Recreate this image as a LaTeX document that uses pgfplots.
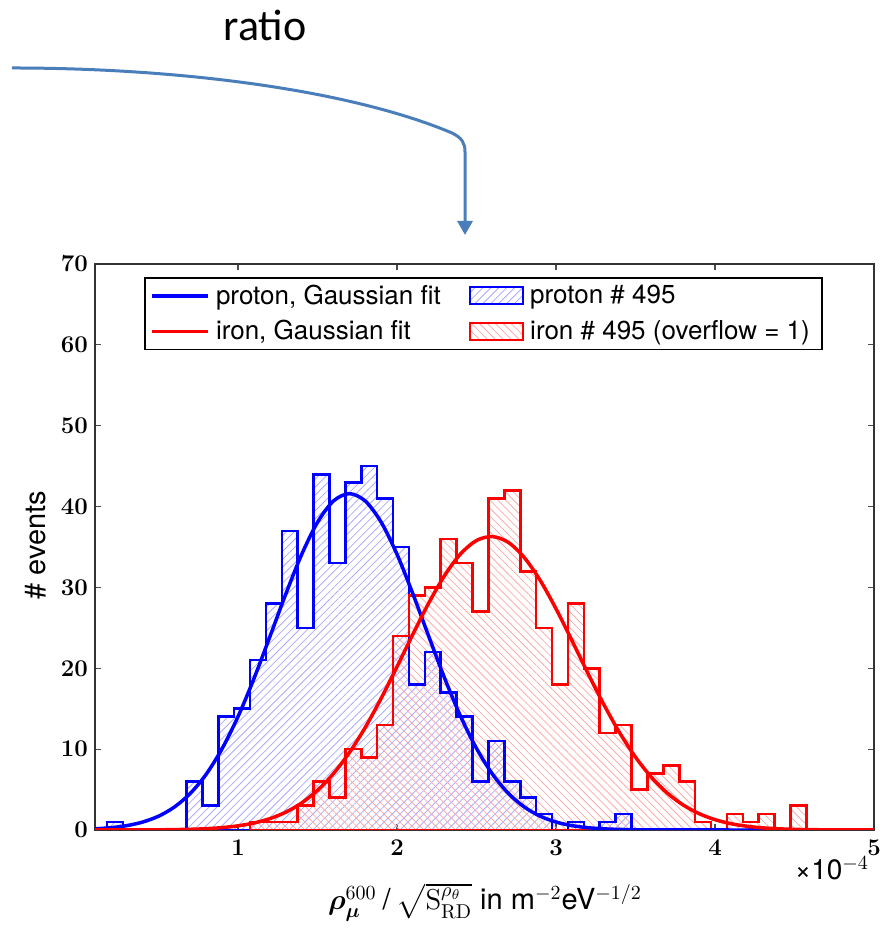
\documentclass[border=0pt]{standalone}
\usepackage[no-math]{fontspec}
\setmainfont{TeX Gyre Heros}
\newfontfamily\calibri{Carlito}
\usepackage{amsmath}
\usepackage{pgfplots}
\pgfplotsset{compat=1.18}
\usetikzlibrary{patterns.meta,arrows.meta}
\definecolor{arrowblue}{RGB}{74,126,187}
\definecolor{hatchblue}{RGB}{170,170,255}
\definecolor{hatchred}{RGB}{255,170,170}
\pgfplotsset{
  mylinelegend/.style={legend image code/.code={\draw[##1] (0pt,0pt) -- (28pt,0pt);}},
  mypatchlegend/.style={legend image code/.code={\draw[##1] (0pt,-4.25pt) rectangle (26.7pt,4.25pt);}},
}
\pgfplotstableread{
x c
0.175 1
0.275 0
0.375 0
0.475 0
0.575 0
0.675 6
0.775 3
0.875 14
0.975 15
1.075 21
1.175 28
1.275 37
1.375 25
1.475 44
1.575 33
1.675 43
1.775 45
1.875 41
1.975 35
2.075 18
2.175 22
2.275 17
2.375 14
2.475 6
2.575 11
2.675 6
2.775 4
2.875 2
2.975 0
3.075 1
3.175 0
3.275 1
3.375 2
3.475 2
}\protonhist
\pgfplotstableread{
x c
1.075 1
1.175 1
1.275 1
1.375 3
1.475 6
1.575 4
1.675 10
1.775 9
1.875 13
1.975 24
2.075 29
2.175 30
2.275 36
2.375 33
2.475 27
2.575 41
2.675 42
2.775 32
2.875 25
2.975 18
3.075 28
3.175 20
3.275 12
3.375 13
3.475 5
3.575 7
3.675 8
3.775 6
3.875 1
3.975 0
4.075 2
4.175 1
4.275 2
4.375 0
4.475 3
4.575 3
}\ironhist
\begin{document}
\begin{tikzpicture}[x=0.5pt,y=0.5pt]
\useasboundingbox (0,0) rectangle (888,929);
\node[font=\calibri\fontsize{22}{26}\selectfont] at (265,904) {ratio};
\draw[arrowblue, line width=1.5pt, -{Triangle[width=7.5pt,length=7pt]}]
  (12,861) .. controls (180,861) and (350,839) .. (452,796)
  .. controls (462,791) and (465,786) .. (465,777) -- (465,694);
\begin{axis}[
  at={(47.5pt,49.5pt)}, anchor=south west, scale only axis,
  width=389.5pt, height=283pt,
  xmin=0.1, xmax=5, ymin=0, ymax=70,
  xtick={1,2,3,4,5}, ytick={0,10,...,70},
  tick align=inside, major tick length=3pt,
  axis line style={line width=1pt, black!80},
  tick style={black!70, line width=0.6pt},
  ticklabel style={font=\fontsize{13}{15}\selectfont\boldmath},
  xticklabel style={yshift=-1.5pt},
  legend columns=2,
  legend style={at={(0.063,0.977)}, anchor=north west, draw=black, line width=0.75pt,
    font=\fontsize{13}{15}\selectfont, row sep=3.5pt,
    nodes={inner ysep=1.5pt, inner xsep=3pt},
    /tikz/every even column/.append style={column sep=11pt}},
  legend cell align=left,
]
\addlegendimage{mylinelegend, blue, line width=1.6pt}
\addlegendentry{proton, Gaussian fit}
\addlegendimage{mypatchlegend, draw=blue, line width=1pt, pattern={Lines[angle=45,distance=2.8pt,line width=0.4pt]}, pattern color=hatchblue}
\addlegendentry{proton \# 495}
\addlegendimage{mylinelegend, red, line width=1.6pt}
\addlegendentry{iron, Gaussian fit}
\addlegendimage{mypatchlegend, draw=red, line width=1pt, pattern={Lines[angle=-45,distance=2.8pt,line width=0.4pt]}, pattern color=hatchred}
\addlegendentry{iron \# 495 (overflow = 1)}

% hatched fills
\addplot[forget plot, const plot, draw=none,
  pattern={Lines[angle=45,distance=2.8pt,line width=0.4pt]}, pattern color=hatchblue]
  table[x=x,y=c] {\protonhist} \closedcycle;
\addplot[forget plot, const plot, draw=none,
  pattern={Lines[angle=-45,distance=2.8pt,line width=0.4pt]}, pattern color=hatchred]
  table[x=x,y=c] {\ironhist} \closedcycle;
% outlines
\addplot[forget plot, const plot, draw=blue, line width=1.3pt] table[x=x,y=c] {\protonhist} \closedcycle;
\addplot[forget plot, const plot, draw=red, line width=1.3pt] table[x=x,y=c] {\ironhist} \closedcycle;

% proton Gaussian fit
\addplot[forget plot, blue, line width=1.75pt, smooth] coordinates {
(0.1,0.143) (0.2,0.284) (0.3,0.540) (0.4,0.983) (0.5,1.710) (0.6,2.849) (0.7,4.536) (0.8,6.910)
(0.9,10.08) (1.0,14.04) (1.1,18.73) (1.2,23.91) (1.3,29.18) (1.4,34.08) (1.5,38.07) (1.6,40.69)
(1.7,41.6) (1.8,40.69) (1.9,38.07) (2.0,34.08) (2.1,29.18) (2.2,23.91) (2.3,18.73) (2.4,14.04)
(2.5,10.08) (2.6,6.910) (2.7,4.536) (2.8,2.849) (2.9,1.710) (3.0,0.983) (3.1,0.540) (3.2,0.284)
(3.3,0.143) (3.4,0.069) (3.5,0.032) (3.6,0.014) (3.8,0.002) (4.0,0) (4.5,0) (5.0,0)};

% iron Gaussian fit
\addplot[forget plot, red, line width=1.75pt, smooth] coordinates {
(0.1,0.001) (0.5,0.023) (0.7,0.089) (0.8,0.165) (0.9,0.296) (1.0,0.515) (1.1,0.865) (1.2,1.405)
(1.3,2.205) (1.4,3.346) (1.5,4.913) (1.6,6.974) (1.7,9.569) (1.8,12.69) (1.9,16.29) (2.0,20.20)
(2.1,24.23) (2.2,28.10) (2.3,31.51) (2.4,34.16) (2.5,35.81) (2.6,36.29) (2.7,35.57) (2.8,33.70)
(2.9,30.88) (3.0,27.35) (3.1,23.43) (3.2,19.40) (3.3,15.54) (3.4,12.03) (3.5,9.007) (3.6,6.520)
(3.7,4.563) (3.8,3.087) (3.9,2.020) (4.0,1.278) (4.1,0.782) (4.2,0.462) (4.3,0.264) (4.4,0.146)
(4.5,0.078) (4.6,0.040) (4.8,0.010) (5.0,0.002)};
\end{axis}
\node[rotate=90, font=\fontsize{14.5}{16}\selectfont] at (36,384) {\# events};
\node[anchor=base, font=\fontsize{14.5}{16}\selectfont] at (485,19)
  {$\boldsymbol{\rho}^{600}_{\boldsymbol{\mu}}$\hspace{3pt}/\hspace{3pt}$\sqrt{\mathrm{S}^{\rho_\theta}_{\mathrm{RD}}}$ in m$^{-2}$eV$^{-1/2}$};
\node[anchor=east, font=\fontsize{14}{16}\selectfont] at (876,61) {×10$^{-4}$};
\end{tikzpicture}
\end{document}
